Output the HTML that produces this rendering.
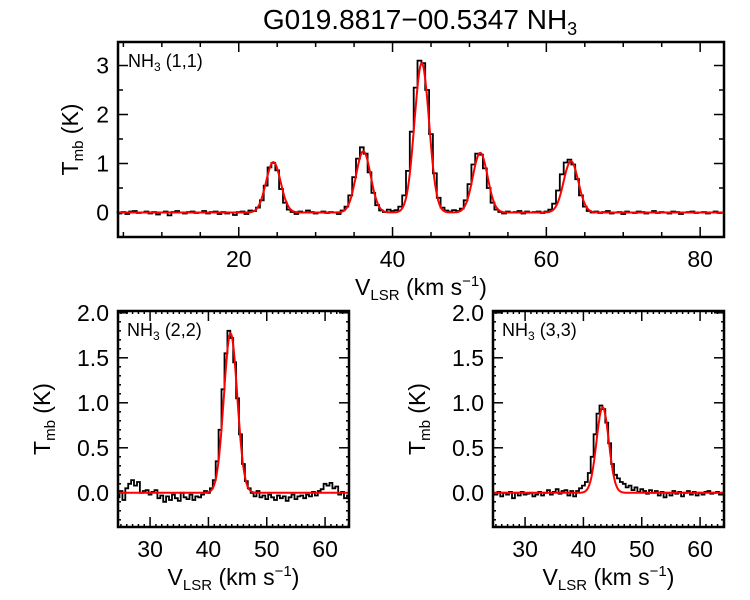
<!DOCTYPE html>
<html><head><meta charset="utf-8"><style>
body{margin:0;background:#fff}
svg{display:block;font-family:"Liberation Sans",Arial,sans-serif}
</style></head><body>
<svg id="c" width="750" height="600" viewBox="0 0 750 600">
<text x="420" y="29" font-size="28" text-anchor="middle">G019.8817−00.5347 NH<tspan font-size="18" dy="6">3</tspan></text>
</svg>
<script>
// ---- Top panel NH3(1,1) data ----
const x11Start = 4.0, x11Step = 0.5;
const t11 = [0.00,-0.02,0.01,-0.03,0.02,0.03,-0.01,0.00,0.02,-0.02,0.01,-0.04,0.00,0.02,-0.06,0.01,0.03,0.00,-0.02,0.01,0.02,-0.01,0.00,0.03,-0.02,0.01,0.02,-0.03,0.01,-0.02,0.00,-0.05,0.01,0.02,-0.03,0.04,0.03,
0.10,0.25,0.55,0.92,1.01,0.86,0.48,0.20,0.06,0.01,
-0.03,0.02,0.00,0.04,0.01,-0.02,0.00,0.02,-0.01,0.01,0.00,-0.03,
0.04,0.12,0.35,0.72,1.10,1.33,1.20,0.82,0.40,0.15,0.04,
0.01,0.06,0.03,0.05,
0.12,0.35,0.85,1.65,2.55,3.10,3.05,2.50,1.60,0.80,0.30,0.10,0.04,
0.02,0.05,0.03,
0.08,0.25,0.58,0.98,1.20,1.18,0.90,0.50,0.20,0.06,
0.01,-0.02,0.02,0.00,0.01,0.03,-0.02,0.02,0.00,0.01,0.02,-0.01,0.02,
0.06,0.18,0.45,0.78,1.02,1.08,0.98,0.68,0.35,0.12,0.03,
0.00,0.02,-0.01,0.01,0.03,-0.02,0.00,0.01,-0.03,0.02,0.00,-0.01,0.02,0.01,-0.02,0.00,0.03,-0.01,0.01,0.00,-0.02,0.02,0.01,-0.03,0.00,0.01,0.02,-0.01,0.00,0.01,-0.02,0.00,0.02,-0.01,0.00];
const fit11Centers = [24.5,36.2,43.8,51.4,63.2];
const fit11Amps = [1.03,1.25,3.05,1.22,1.05];
const fit11Sigma = [0.95,0.95,0.95,0.95,0.95];
const x11Ticks = [20,40,60,80];
const y11Ticks = [0,1,2,3];

// ---- NH3(2,2) ----
const x22Start = 24.5, x22Step = 0.5;
const t22 = [-0.05,0.02,-0.08,0.05,0.10,0.14,0.08,0.12,0.00,0.02,0.03,-0.02,0.01,0.03,-0.06,-0.03,-0.10,-0.04,-0.08,-0.02,-0.06,-0.09,0.00,-0.05,-0.07,-0.02,-0.08,-0.04,-0.05,-0.02,0.02,0.00,
0.05,0.14,0.35,0.70,1.15,1.55,1.80,1.72,1.45,1.05,0.65,0.32,0.13,0.05,
0.00,-0.04,0.02,-0.05,-0.03,-0.07,-0.02,-0.05,-0.08,-0.03,-0.06,-0.04,-0.09,-0.05,-0.02,-0.07,-0.04,-0.03,-0.06,-0.02,-0.04,0.01,-0.03,0.02,0.04,0.10,0.08,0.11,0.05,0.07,-0.02,0.01,-0.06,-0.03];
const fit22Centers = [43.8], fit22Amps = [1.77], fit22Sigma = [1.15];

// ---- NH3(3,3) ----
const x33Start = 24.5, x33Step = 0.5;
const t33 = [0.00,-0.02,0.01,-0.04,0.00,-0.02,0.01,-0.06,0.00,-0.03,0.01,-0.02,-0.01,0.00,-0.04,-0.02,0.01,-0.03,0.00,0.03,-0.02,0.01,0.04,-0.01,0.02,0.03,-0.03,0.02,-0.04,0.02,0.05,0.08,
0.12,0.22,0.40,0.65,0.88,0.97,0.93,0.78,0.55,0.32,0.20,0.16,0.12,0.10,
0.06,0.08,0.03,0.06,0.01,0.04,0.02,-0.01,0.03,0.00,0.02,-0.03,0.01,-0.05,0.00,-0.03,0.02,-0.01,0.01,-0.04,0.00,0.02,-0.02,0.01,-0.03,0.00,-0.02,0.01,0.02,-0.01,0.00,0.01,-0.02,0.00];
const fit33Centers = [43.3], fit33Amps = [0.95], fit33Sigma = [1.05];
const xSmallTicks = [30,40,50,60];
const ySmallTicks = ["0.0","0.5","1.0","1.5","2.0"];

const NS = "http://www.w3.org/2000/svg";
const svg = document.getElementById('c');
function el(tag, attrs, parent){const e=document.createElementNS(NS,tag);for(const k in attrs)e.setAttribute(k,attrs[k]);(parent||svg).appendChild(e);return e;}

function panel(o){
  const g = el('g',{});
  
  
  const sx = v => o.L + (v - o.x0)/(o.x1 - o.x0)*(o.R - o.L);
  const sy = v => o.B - (v - o.y0)/(o.y1 - o.y0)*(o.B - o.T);
  for(let v=Math.ceil(o.x0/o.xmin)*o.xmin; v<=o.x1+1e-9; v+=o.xmin){
    const X=sx(v); const isMaj=Math.abs(v/o.xmaj-Math.round(v/o.xmaj))<1e-6; const l=isMaj?10:o.minl;
    el('line',{x1:X,y1:o.B,x2:X,y2:o.B-l,stroke:'#000','stroke-width':1.5},g);
    el('line',{x1:X,y1:o.T,x2:X,y2:o.T+l,stroke:'#000','stroke-width':1.5},g);
  }
  for(let v=Math.ceil(o.y0/o.ymin-1e-9)*o.ymin; v<=o.y1+1e-9; v+=o.ymin){
    const Y=sy(v); const isMaj=Math.abs(v/o.ymaj-Math.round(v/o.ymaj))<1e-6; const l=isMaj?10:o.minl;
    el('line',{x1:o.L,y1:Y,x2:o.L+l,y2:Y,stroke:'#000','stroke-width':1.5},g);
    el('line',{x1:o.R,y1:Y,x2:o.R-l,y2:Y,stroke:'#000','stroke-width':1.5},g);
  }
  let d='';
  o.data.forEach((v,i)=>{const xc=o.xs+i*o.dx; const xa=sx(Math.max(o.x0,xc-o.dx/2)), xb=sx(Math.min(o.x1,xc+o.dx/2)); const Y=sy(v);
    d += (i===0?'M':'L')+xa.toFixed(1)+','+Y.toFixed(1)+'L'+xb.toFixed(1)+','+Y.toFixed(1);});
  const p = el('path',{d:d,fill:'none',stroke:'#000','stroke-width':1.8},g);
  
  
  let fd='';
  for(let k=0;k<=600;k++){const v=o.x0+(o.x1-o.x0)*k/600; let y=0;
    o.fc.forEach((c,j)=>{y+=o.fa[j]*Math.exp(-(v-c)*(v-c)/(2*o.fs[j]*o.fs[j]));});
    fd+=(k?'L':'M')+sx(v).toFixed(1)+','+sy(y).toFixed(1);}
  const f = el('path',{d:fd,fill:'none',stroke:'#f00','stroke-width':2},g);
  
  
  const r = el('rect',{x:o.L,y:o.T,width:o.R-o.L,height:o.B-o.T,fill:'none',stroke:'#000','stroke-width':2.5},g);
  
  
  o.xt.forEach(v=>{const t=el('text',{x:sx(+v),y:o.B+30,'font-size':23,'text-anchor':'middle'},g);t.textContent=v;
    });
  o.yt.forEach(v=>{const t=el('text',{x:o.L-9,y:sy(+v)+8,'font-size':23,'text-anchor':'end'},g);t.textContent=v;
    });
  const xtT = el('text',{x:(o.L+o.R)/2,y:o.B+58,'font-size':23,'text-anchor':'middle'},g);
  xtT.innerHTML='V<tspan font-size="15" dy="5">LSR</tspan><tspan dy="-5"> (km s</tspan><tspan font-size="15" dy="-9">−1</tspan><tspan dy="9">)</tspan>';
  
  const ytT = el('text',{x:0,y:0,'font-size':23,'text-anchor':'middle',transform:`translate(${o.ytx},${(o.T+o.B)/2}) rotate(-90)`},g);
  ytT.innerHTML='T<tspan font-size="15" dy="5">mb</tspan><tspan dy="-5"> (K)</tspan>';
  
  const lb = el('text',{x:o.L+o.lx,y:o.T+25,'font-size':18},g);
  lb.innerHTML='NH<tspan font-size="12" dy="4">3</tspan><tspan dy="-4"> '+o.label+'</tspan>';
  
}
panel({name:'panel-nh3-11',L:118,R:724,T:42,B:237,x0:4.3,x1:83.1,y0:-0.5,y1:3.48,xmaj:20,xmin:5,ymaj:1,ymin:0.5,minl:5,
  data:t11,xs:x11Start,dx:x11Step,fc:fit11Centers,fa:fit11Amps,fs:fit11Sigma,xt:x11Ticks.map(String),yt:y11Ticks.map(String),ytx:78,label:'(1,1)',lx:10});
panel({name:'panel-nh3-22',L:118,R:349,T:311,B:527,x0:24.5,x1:64.1,y0:-0.38,y1:2.02,xmaj:10,xmin:1,ymaj:0.5,ymin:0.1,minl:3,
  data:t22,xs:x22Start,dx:x22Step,fc:fit22Centers,fa:fit22Amps,fs:fit22Sigma,xt:xSmallTicks.map(String),yt:ySmallTicks,ytx:50,label:'(2,2)',lx:9});
panel({name:'panel-nh3-33',L:493,R:724,T:311,B:527,x0:24.5,x1:64.1,y0:-0.38,y1:2.02,xmaj:10,xmin:1,ymaj:0.5,ymin:0.1,minl:3,
  data:t33,xs:x33Start,dx:x33Step,fc:fit33Centers,fa:fit33Amps,fs:fit33Sigma,xt:xSmallTicks.map(String),yt:ySmallTicks,ytx:425,label:'(3,3)',lx:9});
</script>
</body></html>
